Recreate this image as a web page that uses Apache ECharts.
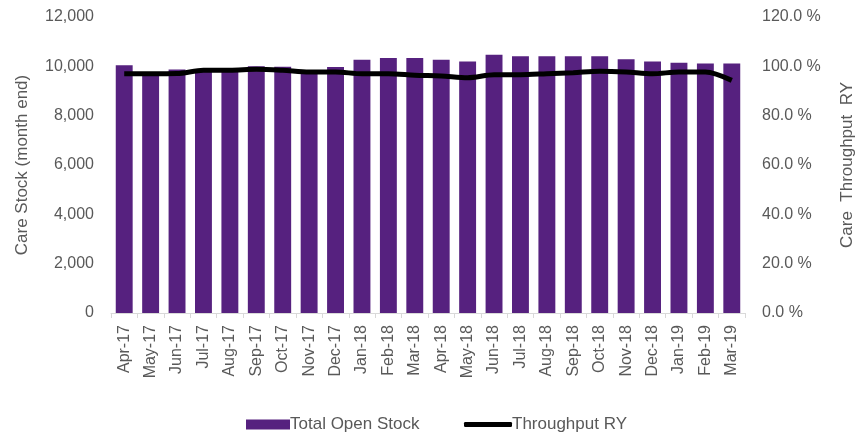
<!DOCTYPE html>
<html>
<head>
    <meta charset="utf-8">
    <title>Care Stock</title>
    <script src="https://cdn.jsdelivr.net/npm/echarts@6/dist/echarts.min.js"></script>
</head>
<body style="margin:0">
    <div id="main" style="width: 867px;height:439px;"></div>
    <script type="text/javascript">
        // month labels along the bottom
        var months = ['Apr-17', 'May-17', 'Jun-17', 'Jul-17', 'Aug-17', 'Sep-17', 'Oct-17', 'Nov-17', 'Dec-17',
            'Jan-18', 'Feb-18', 'Mar-18', 'Apr-18', 'May-18', 'Jun-18', 'Jul-18', 'Aug-18', 'Sep-18', 'Oct-18',
            'Nov-18', 'Dec-18', 'Jan-19', 'Feb-19', 'Mar-19'];

        // total open stock (month end)
        var openStock = [10040, 9720, 9870, 9850, 9860, 10000, 9980, 9800, 9970,
            10270, 10340, 10340, 10270, 10200, 10470, 10410, 10410, 10410, 10410,
            10290, 10200, 10150, 10110, 10110];

        // throughput RY, percent
        var throughput = [97.0, 97.0, 97.1, 98.4, 98.4, 98.8, 98.4, 97.7, 97.7,
            97.0, 97.0, 96.4, 96.1, 95.4, 96.6, 96.6, 97.0, 97.4, 98.0,
            97.7, 97.0, 97.7, 97.7, 94.3];

        var grey = '#595959';
        var font = 'Liberation Sans, Arial, sans-serif';

        var myChart = echarts.init(document.getElementById('main'));

        myChart.setOption({
            animation: false,
            textStyle: { fontFamily: font },
            grid: { left: 111, right: 122, top: 17, bottom: 126 },
            // two legends so each key gets its own icon height
            legend: [
                {
                    bottom: 1,
                    left: 241,
                    itemWidth: 44,
                    itemHeight: 10,
                    itemGap: 5,
                    textStyle: { color: grey, fontSize: 17, fontFamily: font, padding: [0, 0, 0, -5] },
                    data: [{ name: 'Total Open Stock', icon: 'rect' }]
                },
                {
                    bottom: 1,
                    left: 459,
                    itemWidth: 48,
                    itemHeight: 5,
                    textStyle: { color: grey, fontSize: 17, fontFamily: font, padding: [0, 0, 0, -5] },
                    data: [{ name: 'Throughput RY', icon: 'roundRect' }]
                }
            ],
            xAxis: {
                type: 'category',
                data: months,
                axisLine: { lineStyle: { color: '#d9d9d9' } },
                axisTick: { show: true, length: 5, lineStyle: { color: '#d9d9d9' } },
                axisLabel: { rotate: 90, interval: 0, margin: 12, color: grey, fontSize: 16, fontFamily: font }
            },
            yAxis: [
                {
                    type: 'value',
                    min: 0,
                    max: 12000,
                    interval: 2000,
                    name: 'Care Stock (month end)',
                    nameLocation: 'middle',
                    nameGap: 80,
                    nameTextStyle: { color: grey, fontSize: 17, fontFamily: font },
                    splitLine: { show: false },
                    axisLine: { show: false },
                    axisTick: { show: false },
                    axisLabel: {
                        color: grey, fontSize: 16, margin: 17,
                        formatter: function (v) { return v.toLocaleString('en-US'); }
                    }
                },
                {
                    type: 'value',
                    min: 0,
                    max: 120,
                    interval: 20,
                    name: 'Care  Throughput  RY',
                    nameLocation: 'middle',
                    nameGap: 94,
                    nameRotate: 90,
                    nameTextStyle: { color: grey, fontSize: 17, fontFamily: font },
                    splitLine: { show: false },
                    axisLine: { show: false },
                    axisTick: { show: false },
                    axisLabel: {
                        color: grey, fontSize: 16, margin: 17,
                        formatter: function (v) { return v.toFixed(1) + ' %'; }
                    }
                }
            ],
            series: [
                {
                    name: 'Total Open Stock',
                    type: 'bar',
                    data: openStock,
                    barCategoryGap: '36%',
                    itemStyle: { color: '#56217f' }
                },
                {
                    name: 'Throughput RY',
                    type: 'line',
                    yAxisIndex: 1,
                    data: throughput,
                    smooth: 0.3,
                    symbol: 'none',
                    lineStyle: { color: '#000000', width: 5 },
                    itemStyle: { color: '#000000' }
                }
            ]
        });
    </script>
</body>
</html>
